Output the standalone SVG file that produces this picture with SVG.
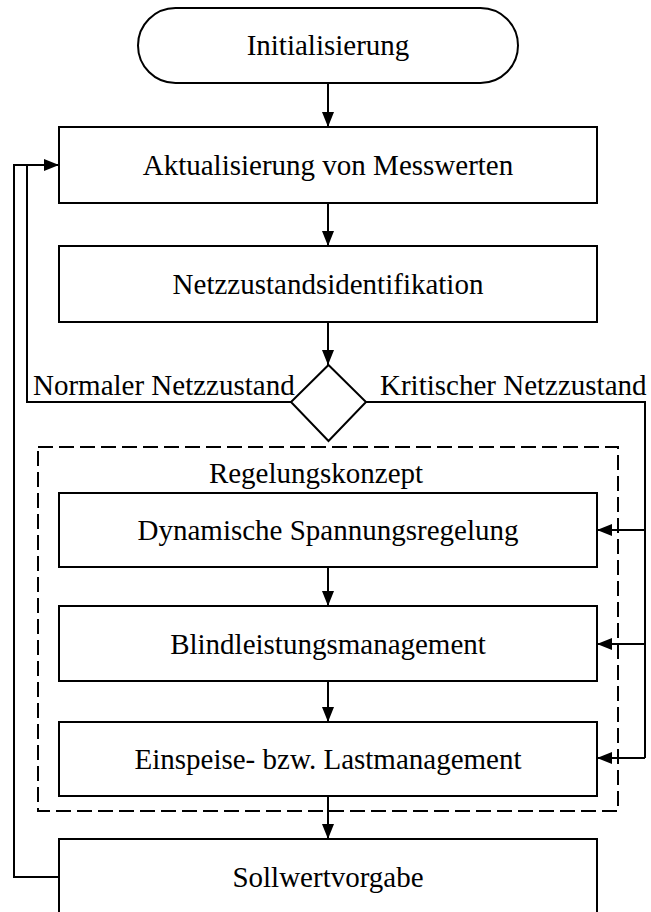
<svg xmlns="http://www.w3.org/2000/svg" width="651" height="912" viewBox="0 0 651 912">
  <style>
    .box { fill: #fff; stroke: #000; stroke-width: 2; }
    .lbl { font-family: "Liberation Serif", "Times New Roman", serif; font-size: 29px; fill: #000; }
    .mid { text-anchor: middle; }
    .wire { fill: none; stroke: #000; stroke-width: 2; }
    .dash { fill: none; stroke: #000; stroke-width: 2; stroke-dasharray: 15 6; }
  </style>
  <defs>
    <marker id="arr" viewBox="0 0 15 12" refX="15" refY="6" markerWidth="15" markerHeight="12" markerUnits="userSpaceOnUse" orient="auto">
      <path d="M0,0 L15,6 L0,12 Z" fill="#000"/>
    </marker>
  </defs>

  <g id="start">
    <rect class="box" x="138" y="8" width="380" height="75" rx="37.5"/>
    <text class="lbl mid" x="328" y="55">Initialisierung</text>
  </g>
  <g id="messwerte">
    <rect class="box" x="59" y="127" width="538" height="76"/>
    <text class="lbl mid" x="328" y="175">Aktualisierung von Messwerten</text>
  </g>
  <g id="identifikation">
    <rect class="box" x="59" y="246" width="538" height="76"/>
    <text class="lbl mid" x="328" y="294">Netzzustandsidentifikation</text>
  </g>
  <g id="entscheidung">
    <path class="box" d="M328.5,365 L366,402 L328.5,441 L291,402 Z"/>
    <text class="lbl" x="33" y="395">Normaler Netzzustand</text>
    <text class="lbl" x="380" y="395">Kritischer Netzzustand</text>
  </g>
  <g id="regelungskonzept">
    <rect class="dash" x="38" y="447" width="580" height="364"/>
    <text class="lbl mid" x="316" y="483">Regelungskonzept</text>
  </g>
  <g id="spannungsregelung">
    <rect class="box" x="59" y="493" width="538" height="74"/>
    <text class="lbl mid" x="328" y="540">Dynamische Spannungsregelung</text>
  </g>
  <g id="blindleistung">
    <rect class="box" x="59" y="606" width="538" height="75"/>
    <text class="lbl mid" x="328" y="654">Blindleistungsmanagement</text>
  </g>
  <g id="einspeisung">
    <rect class="box" x="59" y="722" width="538" height="74"/>
    <text class="lbl mid" x="328" y="769">Einspeise- bzw. Lastmanagement</text>
  </g>
  <g id="sollwert">
    <rect class="box" x="59" y="839" width="538" height="80"/>
    <text class="lbl mid" x="328" y="887">Sollwertvorgabe</text>
  </g>

  <g id="connectors">
    <line class="wire" x1="328" y1="83" x2="328" y2="127" marker-end="url(#arr)"/>
    <line class="wire" x1="328" y1="203" x2="328" y2="246" marker-end="url(#arr)"/>
    <line class="wire" x1="328" y1="322" x2="328" y2="365" marker-end="url(#arr)"/>
    <line class="wire" x1="328" y1="567" x2="328" y2="606" marker-end="url(#arr)"/>
    <line class="wire" x1="328" y1="681" x2="328" y2="722" marker-end="url(#arr)"/>
    <line class="wire" x1="328" y1="796" x2="328" y2="839" marker-end="url(#arr)"/>
    <!-- normal state: back to measurement update -->
    <polyline class="wire" points="291,402 27,402 27,165"/>
    <!-- setpoint output loops back -->
    <polyline class="wire" points="59,877 14,877 14,165 59,165" marker-end="url(#arr)"/>
    <!-- critical state: feed the control blocks -->
    <polyline class="wire" points="366,402 645,402 645,758"/>
    <line class="wire" x1="645" y1="530" x2="597" y2="530" marker-end="url(#arr)"/>
    <line class="wire" x1="645" y1="644" x2="597" y2="644" marker-end="url(#arr)"/>
    <line class="wire" x1="645" y1="758" x2="597" y2="758" marker-end="url(#arr)"/>
  </g>
</svg>
